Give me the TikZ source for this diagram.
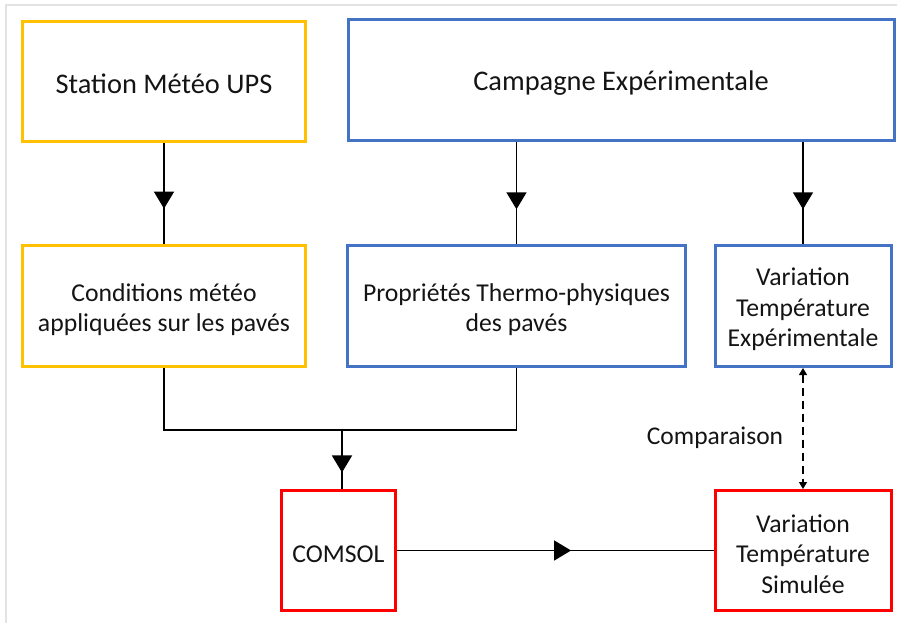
\documentclass[tikz,border=0pt]{standalone}
\usepackage{fontspec}
\setmainfont{Carlito}
\usetikzlibrary{arrows.meta,decorations.markings}
\definecolor{ylw}{HTML}{FFC000}
\definecolor{blu}{HTML}{4472C4}
\definecolor{rd}{HTML}{FF0000}
\definecolor{frm}{HTML}{E2E2E2}
\newcommand\pst{\rule[-1pt]{0pt}{26pt}}
\tikzset{
  box/.style={draw, line width=3pt, rectangle, align=center, inner sep=0pt, font=\fontsize{25.7}{30.5}\selectfont, text=black!92},
  ybox/.style={box, draw=ylw},
  bbox/.style={box, draw=blu},
  rbox/.style={box, draw=rd},
  bigtext/.style={font=\fontsize{28.4}{34}\selectfont},
  conn/.style={draw=black, line width=1.5pt},
  midarrow/.style={conn, postaction={decorate}, decoration={markings, mark=at position #1 with {\arrow{Triangle[width=20pt,length=17pt]}}}},
  cmp/.style={draw=black, line width=1.3pt, dash pattern=on 8pt off 5pt, {Triangle[width=8pt,length=7pt]}-{Triangle[width=8pt,length=7pt]}},
  lbl/.style={font=\fontsize{25.5}{30.5}\selectfont, text=black!92, inner sep=0pt}
}
\begin{document}
\begin{tikzpicture}[x=1pt,y=-1pt]
\useasboundingbox (0,0) rectangle (897,623);
\draw[frm, line width=1.5pt] (6,623) -- (6,5) -- (897,5);

\node[ybox, bigtext, minimum width=283pt, minimum height=120pt] (st) at (164,81.5) {\pst Station Météo UPS};
\node[bbox, bigtext, minimum width=546pt, minimum height=121pt] (camp) at (621,80) {\pst Campagne Expérimentale};
\node[ybox, minimum width=283pt, minimum height=121pt] (cond) at (164,306) {\pst Conditions météo\\\pst appliquées sur les pavés};
\node[bbox, minimum width=338pt, minimum height=121pt] (prop) at (516.5,306) {\pst Propriétés Thermo-physiques\\\pst des pavés};
\node[bbox, minimum width=176pt, minimum height=121pt] (exp) at (803,306) {\pst Variation\\\pst Température\\\pst Expérimentale};
\node[rbox, minimum width=114pt, minimum height=120pt] (com) at (338.5,550.5) {\pst COMSOL};
\node[rbox, minimum width=176pt, minimum height=120pt] (sim) at (803,550.5) {\pst Variation\\\pst Température\\\pst Simulée};

\draw[midarrow=0.65] (st.south) -- (cond.north);
\draw[midarrow=0.66] (camp.south -| prop.north) -- (prop.north);
\draw[midarrow=0.66] (camp.south -| exp.north) -- (exp.north);

\coordinate (m) at (342,430);
\draw[conn] (cond.south) |- (m) -| (prop.south);
\draw[midarrow=0.72] (m) -- (m |- com.north);
\draw[midarrow=0.55] (com.east) -- (com.east -| sim.west);

\draw[cmp] (exp.south) -- (sim.north);
\node[lbl] (cp) at (715,434) {\pst Comparaison};
\end{tikzpicture}
\end{document}
